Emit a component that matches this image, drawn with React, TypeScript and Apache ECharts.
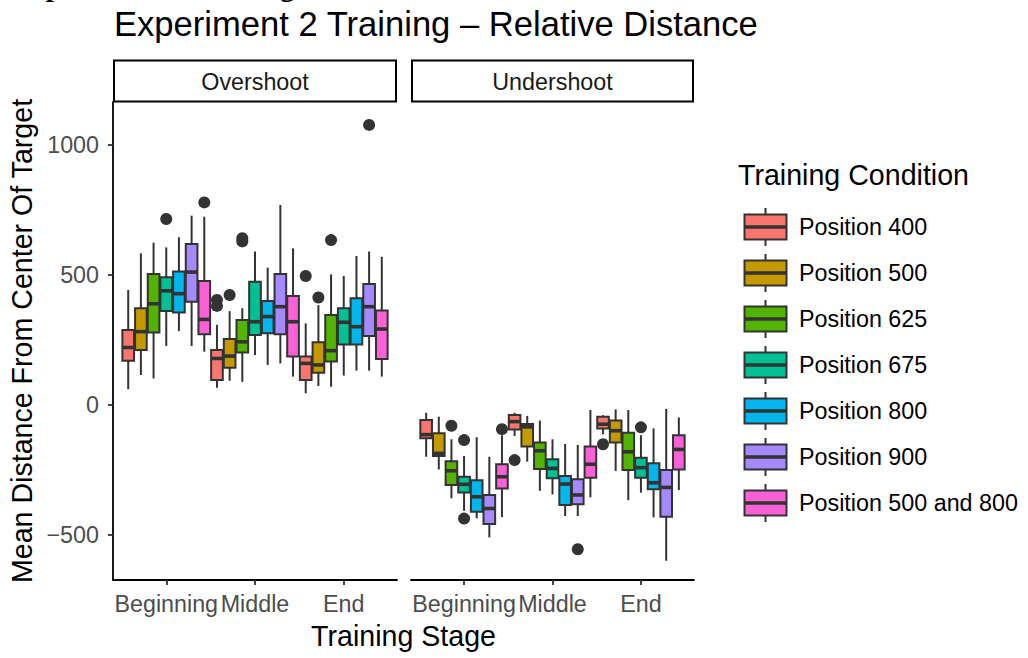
import React, { useEffect, useRef } from 'react';
import * as echarts from 'echarts';

const stages = ['Beginning', 'Middle', 'End'];
const conditions = [
  'Position 400',
  'Position 500',
  'Position 625',
  'Position 675',
  'Position 800',
  'Position 900',
  'Position 500 and 800',
];
const conditionColors = ['#F8766D', '#C49A00', '#53B400', '#00C094', '#00B6EB', '#A58AFF', '#FB61D7'];
const facetNames = ['Overshoot', 'Undershoot'];
const yTickValues = [-500, 0, 500, 1000];

// [lower whisker, Q1, median, Q3, upper whisker] for Beginning, Middle, End
const over400 = [[60, 169, 220, 287, 441], [65, 95, 178, 210, 307], [44, 95, 159, 185, 313]];
const over500 = [[114, 210, 281, 371, 582], [92, 142, 187, 253, 360], [72, 123, 153, 240, 383]];
const over625 = [[101, 278, 388, 503, 623], [88, 201, 242, 326, 371], [69, 166, 208, 345, 501]];
const over675 = [[226, 360, 438, 490, 605], [191, 268, 319, 473, 589], [112, 232, 317, 371, 495]];
const over800 = [[283, 355, 427, 512, 644], [153, 275, 339, 399, 527], [131, 232, 300, 409, 572]];
const over900 = [[226, 396, 510, 618, 727], [159, 271, 377, 503, 768], [131, 264, 377, 464, 589]];
const over500and800 = [[204, 271, 328, 476, 723], [108, 185, 319, 418, 601], [108, 176, 291, 362, 569]];

const under400 = [[-200, -129, -115, -59, -31], [-120, -95, -65, -40, -31], [-114, -91, -75, -46, -40]];
const under500 = [[-249, -197, -187, -110, -46], [-219, -161, -85, -74, -43], [-255, -145, -100, -61, -18]];
const under625 = [[-360, -309, -254, -217, -133], [-331, -247, -177, -145, -61], [-367, -251, -181, -108, -20]];
const under675 = [[-408, -338, -306, -277, -197], [-345, -283, -245, -210, -133], [-338, -281, -242, -204, -117]];
const under800 = [[-437, -412, -354, -290, -125], [-428, -386, -305, -274, -151], [-433, -325, -300, -225, -91]];
const under900 = [[-510, -459, -399, -347, -200], [-428, -383, -347, -287, -155], [-600, -431, -318, -251, -16]];
const under500and800 = [[-432, -322, -277, -229, -118], [-356, -281, -229, -161, -20], [-328, -249, -172, -117, -49]];

// outliers: [condition index, stage index, value]
const overshootOutliers = [
  [3, 0, 714], [6, 0, 778],
  [0, 1, 403], [0, 1, 380], [1, 1, 422], [2, 1, 628], [2, 1, 640],
  [0, 2, 495], [1, 2, 412], [2, 2, 633], [5, 2, 1076],
];
const undershootOutliers = [
  [2, 0, -81], [3, 0, -136], [3, 0, -438], [6, 0, -94],
  [0, 1, -213], [5, 1, -556],
  [0, 2, -152], [3, 2, -87],
];

const overshootStats = [over400, over500, over625, over675, over800, over900, over500and800];
const undershootStats = [under400, under500, under625, under675, under800, under900, under500and800];

const FONT = '"Liberation Sans", Arial, Helvetica, sans-serif';
const SMALL = 23.3;
const LARGE = 28.6;
const panels = [
  { left: 113, width: 284 },
  { left: 411, width: 283 },
];
const PANEL_TOP = 102;
const PANEL_BOTTOM = 580;
const Y_MIN = -674;
const Y_MAX = 1164;
const X_MIN = 0.4;
const X_MAX = 3.6;
const SLOT = 1 / conditions.length;
const LINE = '#333333';

function offsetOf(ci: number) {
  return (ci - (conditions.length - 1) / 2) * SLOT;
}

function boxSeries(stats: number[][], ci: number, axisIndex: number) {
  return {
    type: 'custom',
    xAxisIndex: axisIndex,
    yAxisIndex: axisIndex,
    name: conditions[ci],
    data: stats.map((s, si) => [si + 1 + offsetOf(ci), ...s]),
    encode: { x: 0, y: [1, 2, 3, 4, 5] },
    renderItem: (params: any, api: any) => {
      const x = api.value(0);
      const low = api.coord([x, api.value(1)]);
      const q1 = api.coord([x, api.value(2)]);
      const med = api.coord([x, api.value(3)]);
      const q3 = api.coord([x, api.value(4)]);
      const high = api.coord([x, api.value(5)]);
      const w = api.size([SLOT, 0])[0] * 0.92;
      const h = w / 2;
      return {
        type: 'group',
        children: [
          { type: 'line', shape: { x1: low[0], y1: low[1], x2: q1[0], y2: q1[1] }, style: { stroke: LINE, lineWidth: 2 } },
          { type: 'line', shape: { x1: q3[0], y1: q3[1], x2: high[0], y2: high[1] }, style: { stroke: LINE, lineWidth: 2 } },
          {
            type: 'rect',
            shape: { x: q3[0] - h, y: q3[1], width: w, height: q1[1] - q3[1] },
            style: { fill: conditionColors[ci], stroke: LINE, lineWidth: 2 },
          },
          { type: 'line', shape: { x1: med[0] - h, y1: med[1], x2: med[0] + h, y2: med[1] }, style: { stroke: LINE, lineWidth: 3.6 } },
        ],
      };
    },
    z: 2,
  };
}

function outlierSeries(outliers: number[][], axisIndex: number) {
  return {
    type: 'scatter',
    xAxisIndex: axisIndex,
    yAxisIndex: axisIndex,
    symbol: 'circle',
    symbolSize: 12,
    itemStyle: { color: LINE, opacity: 1 },
    data: outliers.map(([ci, si, v]) => [si + 1 + offsetOf(ci), v]),
    z: 3,
  };
}

function fmtY(v: number) {
  return v < 0 ? '\u2212' + Math.abs(v) : String(v);
}

function buildOption() {
  const grid = panels.map((p) => ({
    left: p.left,
    width: p.width,
    top: PANEL_TOP,
    height: PANEL_BOTTOM - PANEL_TOP,
    containLabel: false,
  }));
  const xAxis = panels.map((p, i) => ({
    type: 'value',
    gridIndex: i,
    min: X_MIN,
    max: X_MAX,
    axisLine: { show: true, onZero: false, lineStyle: { color: '#000000', width: 1.8 } },
    axisTick: { show: true, customValues: [1, 2, 3], length: 5, lineStyle: { color: LINE, width: 1.8 } },
    axisLabel: {
      show: true,
      customValues: [1, 2, 3],
      formatter: (v: number) => stages[Math.round(v) - 1] ?? '',
      fontSize: SMALL,
      color: '#4D4D4D',
      margin: 12,
      fontFamily: FONT,
    },
    splitLine: { show: false },
  }));
  const yAxis = panels.map((p, i) => ({
    type: 'value',
    gridIndex: i,
    min: Y_MIN,
    max: Y_MAX,
    axisLine: { show: i === 0, onZero: false, lineStyle: { color: '#000000', width: 1.8 } },
    axisTick: { show: i === 0, customValues: yTickValues, length: 5, lineStyle: { color: LINE, width: 1.8 } },
    axisLabel: {
      show: i === 0,
      customValues: yTickValues,
      formatter: fmtY,
      fontSize: SMALL,
      color: '#4D4D4D',
      margin: 14,
      fontFamily: FONT,
    },
    splitLine: { show: false },
  }));

  const series: any[] = [];
  overshootStats.forEach((s, ci) => series.push(boxSeries(s, ci, 0)));
  undershootStats.forEach((s, ci) => series.push(boxSeries(s, ci, 1)));
  series.push(outlierSeries(overshootOutliers, 0));
  series.push(outlierSeries(undershootOutliers, 1));

  const graphics: any[] = [];
  // heading fragment cut off at the top edge (only descenders visible)
  graphics.push({
    type: 'text',
    x: 12,
    y: -14,
    style: {
      text: 'Experiment 2 Training',
      font: 'bold 29px "Liberation Serif", "Times New Roman", serif',
      fill: '#000000',
      verticalAlign: 'middle',
      align: 'left',
    },
  });
  // facet strips
  panels.forEach((p, i) => {
    graphics.push({
      type: 'rect',
      shape: { x: p.left + 1, y: 60.5, width: p.width - 2, height: 41 },
      style: { fill: '#FFFFFF', stroke: '#000000', lineWidth: 2 },
    });
    graphics.push({
      type: 'text',
      x: p.left + p.width / 2,
      y: 82,
      style: {
        text: facetNames[i],
        fontSize: SMALL,
        fontFamily: FONT,
        fill: '#1A1A1A',
        align: 'center',
        verticalAlign: 'middle',
      },
    });
  });
  // axis titles
  graphics.push({
    type: 'text',
    x: (panels[0].left + panels[1].left + panels[1].width) / 2,
    y: 635.5,
    style: { text: 'Training Stage', fontSize: LARGE, fontFamily: FONT, fill: '#000000', align: 'center', verticalAlign: 'middle' },
  });
  graphics.push({
    type: 'text',
    x: 22,
    y: (PANEL_TOP + PANEL_BOTTOM) / 2,
    rotation: Math.PI / 2,
    style: {
      text: 'Mean Distance From Center Of Target',
      fontSize: LARGE,
      fontFamily: FONT,
      fill: '#000000',
      align: 'center',
      verticalAlign: 'middle',
    },
  });
  // legend
  graphics.push({
    type: 'text',
    x: 738,
    y: 175,
    style: { text: 'Training Condition', fontSize: LARGE, fontFamily: FONT, fill: '#000000', align: 'left', verticalAlign: 'middle' },
  });
  conditions.forEach((name, i) => {
    const yc = 227 + 46 * i;
    const xc = 765.5;
    graphics.push({
      type: 'line',
      shape: { x1: xc, y1: yc - 19, x2: xc, y2: yc + 19 },
      style: { stroke: LINE, lineWidth: 2 },
    });
    graphics.push({
      type: 'rect',
      shape: { x: xc - 21, y: yc - 12.5, width: 42, height: 25 },
      style: { fill: conditionColors[i], stroke: LINE, lineWidth: 2 },
    });
    graphics.push({
      type: 'line',
      shape: { x1: xc - 21, y1: yc, x2: xc + 21, y2: yc },
      style: { stroke: LINE, lineWidth: 3.6 },
    });
    graphics.push({
      type: 'text',
      x: 799,
      y: yc,
      style: { text: name, fontSize: SMALL, fontFamily: FONT, fill: '#000000', align: 'left', verticalAlign: 'middle' },
    });
  });

  return {
    animation: false,
    backgroundColor: '#FFFFFF',
    textStyle: { fontFamily: FONT },
    title: {
      text: 'Experiment 2 Training \u2013 Relative Distance',
      left: 114,
      top: 6,
      padding: 0,
      textStyle: { fontSize: 34.6, fontWeight: 'normal', color: '#000000', fontFamily: FONT },
    },
    grid,
    xAxis,
    yAxis,
    series,
    graphic: { elements: graphics },
  };
}

export default function App() {
  const ref = useRef<HTMLDivElement>(null);
  useEffect(() => {
    if (!ref.current) return;
    const chart = echarts.init(ref.current, undefined, { renderer: 'svg' });
    chart.setOption(buildOption() as any);
    return () => chart.dispose();
  }, []);
  return (
    <div
      ref={ref}
      style={{ position: 'fixed', left: 0, top: 0, width: 1028, height: 658, background: '#FFFFFF' }}
    />
  );
}
